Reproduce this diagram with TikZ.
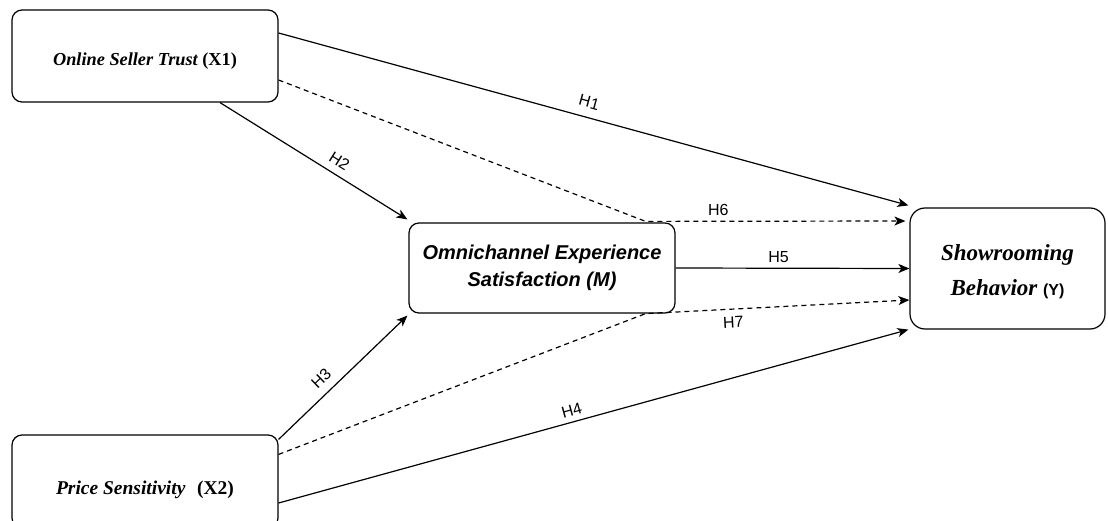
\documentclass[tikz,border=0pt]{standalone}
\usepackage{fontspec}
\setmainfont{Liberation Serif}
\setsansfont{Liberation Sans}
\usetikzlibrary{arrows.meta,calc}
\begin{document}
\begin{tikzpicture}[x=1pt,y=-1pt,
  box/.style={draw, line width=1.2pt, fill=white, rounded corners=10pt, align=center, inner sep=0pt},
  conn/.style={line width=1.2pt, -{Stealth[length=11pt,width=9pt,inset=3pt]}},
  dconn/.style={conn, dash pattern=on 5pt off 4pt},
  lab/.style={font=\sffamily\fontsize{16}{16}\selectfont, inner sep=0pt, sloped}
]
\useasboundingbox (0,0) rectangle (1108,521);
\node[box, minimum width=266pt, minimum height=92pt,
      font=\fontsize{18.3}{22}\selectfont\bfseries] (X1) at (145,56)
  {\raisebox{-9.5pt}[0pt][0pt]{\itshape Online Seller Trust \upshape(X1)}};
\node[box, minimum width=266pt, minimum height=90pt,
      font=\sffamily\bfseries\itshape\fontsize{20}{27}\selectfont] (M) at (542,268)
  {Omnichannel Experience\\Satisfaction (M)};
\node[box, minimum width=195pt, minimum height=121pt, rounded corners=15pt,
      font=\bfseries\itshape\fontsize{23}{35}\selectfont] (Y) at (1007.5,268.5)
  {\raisebox{-3pt}[\height][\depth]{\begin{tabular}{@{}c@{}}Showrooming\\Behavior {\sffamily\upshape\fontsize{16}{16}\selectfont (Y)}\end{tabular}}};
\node[box, minimum width=266pt, minimum height=93pt,
      font=\fontsize{19.5}{24}\selectfont\bfseries] (X2) at (145,481.5)
  {\raisebox{-12.5pt}[0pt][0pt]{\itshape Price Sensitivity\hspace{0.6em}\upshape(X2)}};

% connector end points on the box borders
\coordinate (h1s) at ([yshift=23pt]X1.east);
\coordinate (h1e) at ([xshift=-1pt,yshift=2pt]Y.north west);
\coordinate (d1s) at ([yshift=-24pt]X1.east);
\coordinate (m6) at ([xshift=-30pt,yshift=1pt]M.north east);
\coordinate (h6e) at ([xshift=-4pt,yshift=47.5pt]Y.west);
\coordinate (h2s) at ([xshift=75pt]X1.south);
\coordinate (h2e) at ([xshift=-1pt,yshift=3pt]M.north west);
\coordinate (h3s) at ([yshift=-5pt]X2.north east);
\coordinate (h3e) at ([xshift=-1pt,yshift=-2pt]M.south west);
\coordinate (d2s) at ([yshift=-20pt]X2.north east);
\coordinate (m7) at ([xshift=-30pt]M.south east);
\coordinate (h7e) at ([yshift=-31.5pt]Y.west);
\coordinate (h4s) at ([yshift=-21.5pt]X2.east);
\coordinate (h4e) at ([xshift=-1pt]Y.south west);

\draw[conn] (h1s) -- node[lab, pos=0.487, above=9pt] (lH1) {H1} (h1e);
\draw[dconn] (d1s) -- (m6) -- node[lab, pos=0.28, above=5pt] (lH6) {H6} (h6e);
\draw[conn] (h2s) -- node[lab, pos=0.6, above=7pt] (lH2) {H2} (h2e);
\draw[conn] (M.east) -- node[lab, pos=0.44, above=5pt] (lH5) {H5} (Y.west);
\draw[conn] (h3s) -- node[lab, pos=0.41, above=8.5pt] (lH3) {H3} (h3e);
\draw[dconn] (d2s) -- (m7) -- node[lab, pos=0.33, below=7pt] (lH7) {H7} (h7e);
\draw[conn] (h4s) -- node[lab, pos=0.47, above=5pt] (lH4) {H4} (h4e);
\end{tikzpicture}
\end{document}
